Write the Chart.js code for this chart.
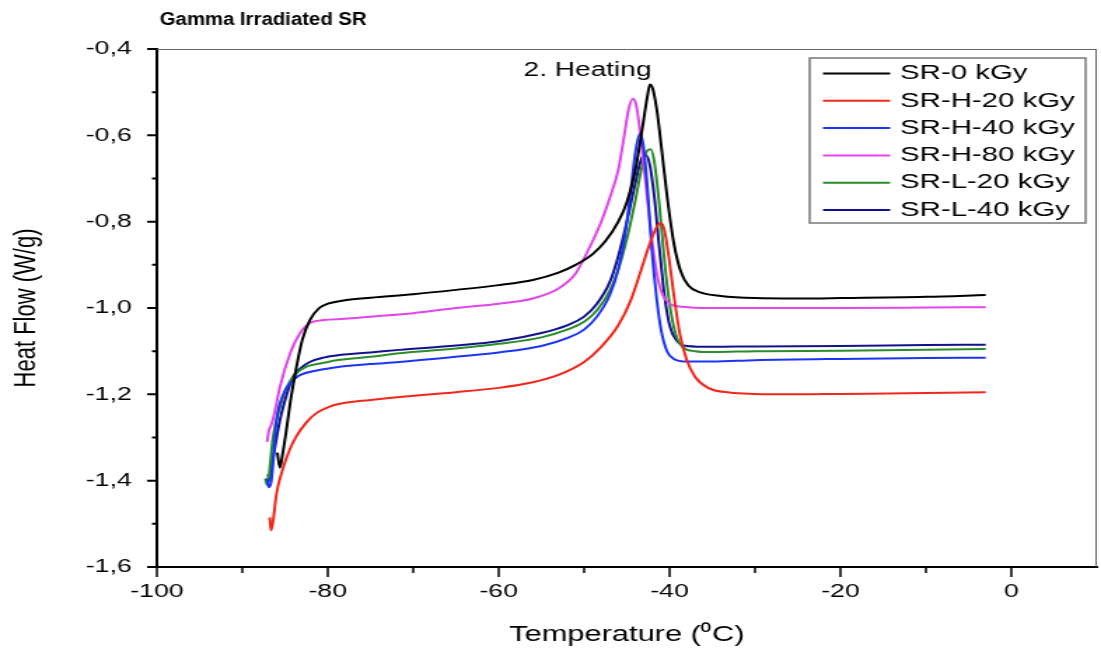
<!DOCTYPE html>
<html>
<head>
<meta charset="utf-8">
<script src="https://cdn.jsdelivr.net/npm/chart.js@4.4.0/dist/chart.umd.min.js"></script>
<style>
  html, body { margin: 0; padding: 0; background: #fff; overflow: hidden; }
</style>
</head>
<body>
<!-- the original figure is stretched sideways, so the canvas is drawn narrow and widened by css -->
<canvas id="chart" width="786" height="653" style="display:block;width:1101px;height:653px"></canvas>
<script>
const temperatureTicks = [-100, -80, -60, -40, -20, 0];
const heatFlowTicks = [-1.6, -1.4, -1.2, -1.0, -0.8, -0.6, -0.4];
const seriesNames = ['SR-0 kGy', 'SR-H-20 kGy', 'SR-H-40 kGy', 'SR-H-80 kGy', 'SR-L-20 kGy', 'SR-L-40 kGy'];

// SR-0 kGy
const tempSR0 = [-85.9, -85.6, -85.3, -84.9, -84.4, -83.7, -83.0, -82.1, -81.0, -80.0, -78.0, -75.0, -70.0, -65.0, -60.0, -56.0, -53.0, -51.0, -49.0, -47.5, -46.0, -45.0, -44.0, -43.2, -42.6, -42.3, -42.0, -41.5, -41.0, -40.3, -39.5, -38.7, -37.8, -36.5, -34.0, -30.0, -25.0, -20.0, -10.0, -3.0];
const flowSR0 = [-1.335, -1.37, -1.34, -1.29, -1.22, -1.14, -1.075, -1.028, -1.0, -0.99, -0.982, -0.976, -0.968, -0.958, -0.947, -0.935, -0.918, -0.9, -0.875, -0.845, -0.80, -0.755, -0.68, -0.585, -0.51, -0.482, -0.49, -0.54, -0.62, -0.74, -0.85, -0.915, -0.948, -0.963, -0.972, -0.977, -0.978, -0.977, -0.974, -0.97];

// SR-H-20 kGy
const tempH20 = [-86.8, -86.65, -86.45, -86.0, -85.3, -84.5, -83.7, -82.5, -81.3, -80.0, -78.6, -75.0, -71.6, -65.0, -60.0, -56.0, -53.0, -50.0, -48.0, -46.0, -44.5, -43.3, -42.3, -41.5, -41.0, -40.6, -40.1, -39.5, -38.8, -38.0, -37.0, -35.5, -33.0, -30.0, -25.0, -20.0, -10.0, -3.0];
const flowH20 = [-1.485, -1.515, -1.50, -1.43, -1.375, -1.33, -1.298, -1.265, -1.243, -1.23, -1.222, -1.213, -1.206, -1.195, -1.185, -1.172, -1.155, -1.125, -1.09, -1.04, -0.98, -0.91, -0.85, -0.812, -0.803, -0.82, -0.88, -0.97, -1.06, -1.12, -1.16, -1.185, -1.196, -1.199, -1.2, -1.199, -1.197, -1.195];

// SR-H-40 kGy
const tempH40 = [-87.1, -86.9, -86.6, -86.0, -85.2, -84.4, -83.5, -82.5, -80.5, -78.6, -75.0, -71.6, -65.0, -60.0, -55.0, -52.0, -50.0, -48.5, -47.0, -46.0, -45.2, -44.5, -44.0, -43.5, -43.1, -42.6, -42.1, -41.5, -41.0, -40.3, -39.5, -38.0, -35.0, -30.0, -20.0, -10.0, -3.0];
const flowH40 = [-1.395, -1.415, -1.40, -1.26, -1.2, -1.174, -1.158, -1.15, -1.142, -1.136, -1.13, -1.125, -1.113, -1.103, -1.088, -1.07, -1.05, -1.02, -0.97, -0.91, -0.83, -0.72, -0.64, -0.597, -0.62, -0.72, -0.86, -0.98, -1.05, -1.1, -1.118, -1.124, -1.124, -1.121, -1.118, -1.116, -1.115];

// SR-H-80 kGy
const tempH80 = [-87.1, -86.9, -86.6, -86.2, -85.6, -84.4, -83.3, -82.1, -80.5, -78.0, -75.0, -70.0, -65.0, -60.0, -56.0, -53.0, -51.0, -49.5, -48.0, -47.0, -46.0, -45.3, -44.8, -44.3, -43.9, -43.4, -42.8, -42.2, -41.5, -40.8, -40.0, -38.5, -35.0, -30.0, -20.0, -10.0, -3.0];
const flowH80 = [-1.31, -1.285, -1.27, -1.24, -1.183, -1.105, -1.06, -1.035, -1.028, -1.025, -1.02, -1.012, -1.0, -0.99, -0.978, -0.955, -0.92, -0.865, -0.8, -0.745, -0.68, -0.6, -0.54, -0.515, -0.53, -0.6, -0.71, -0.82, -0.92, -0.97, -0.99, -0.997, -1.0, -1.0, -1.0, -0.999, -0.998];

// SR-L-20 kGy
const tempL20 = [-87.3, -87.1, -86.9, -86.4, -85.6, -84.8, -83.7, -82.5, -80.5, -78.6, -75.0, -71.6, -65.0, -60.0, -55.0, -52.0, -50.0, -48.5, -47.0, -46.0, -45.0, -44.0, -43.2, -42.6, -42.2, -41.8, -41.2, -40.6, -40.0, -39.3, -38.5, -37.0, -35.0, -30.0, -20.0, -10.0, -3.0];
const flowL20 = [-1.395, -1.41, -1.39, -1.298, -1.23, -1.183, -1.152, -1.136, -1.127, -1.12, -1.113, -1.105, -1.094, -1.083, -1.068, -1.05, -1.032, -1.005, -0.96, -0.91, -0.84, -0.75, -0.67, -0.635, -0.632, -0.66, -0.76, -0.89, -0.99, -1.06, -1.09, -1.1, -1.102, -1.1, -1.099, -1.097, -1.095];

// SR-L-40 kGy
const tempL40 = [-87.0, -86.8, -86.5, -85.6, -84.8, -84.1, -83.1, -82.1, -80.5, -78.6, -75.0, -71.6, -65.0, -60.0, -55.0, -52.0, -50.0, -48.5, -47.0, -46.0, -45.0, -44.0, -43.3, -42.8, -42.3, -41.8, -41.2, -40.6, -40.0, -39.2, -38.0, -35.0, -30.0, -20.0, -10.0, -3.0];
const flowL40 = [-1.385, -1.40, -1.36, -1.26, -1.2, -1.16, -1.138, -1.125, -1.115, -1.109, -1.103, -1.097, -1.087, -1.077, -1.058, -1.04, -1.02, -0.99, -0.94, -0.88, -0.8, -0.71, -0.655, -0.645, -0.67, -0.74, -0.86, -0.97, -1.04, -1.075, -1.088, -1.09, -1.089, -1.088, -1.086, -1.085];

const seriesTemps = [tempSR0, tempH20, tempH40, tempH80, tempL20, tempL40];
const seriesFlows = [flowSR0, flowH20, flowH40, flowH80, flowL20, flowL40];
const lineColors = ['#000000', '#f0281c', '#1c34f4', '#e046e8', '#2a8c2a', '#12128c'];

const FONT = 'Arial, "Liberation Sans", sans-serif';
Chart.defaults.color = '#000';
Chart.defaults.font.family = FONT;

function toPoints(xs, ys) {
    return xs.map((x, i) => ({ x: x, y: ys[i] }));
}

const datasets = seriesNames.map((name, i) => ({
    label: name,
    data: toPoints(seriesTemps[i], seriesFlows[i]),
    borderColor: lineColors[i],
    backgroundColor: lineColors[i],
    borderWidth: 2,
    pointRadius: 0,
    cubicInterpolationMode: 'monotone',
    fill: false
}));

// frame, minor ticks, legend box, title and the "2. Heating" note
const decor = {
    id: 'decor',
    afterDraw(chart) {
        const { ctx, chartArea: a } = chart;
        const xs = chart.scales.x;
        const ys = chart.scales.y;
        ctx.save();

        // thin top and right frame
        ctx.strokeStyle = '#666';
        ctx.lineWidth = 1;
        ctx.beginPath();
        ctx.moveTo(a.left, a.top + 0.5);
        ctx.lineTo(a.right, a.top + 0.5);
        ctx.moveTo(a.right - 0.5, a.top);
        ctx.lineTo(a.right - 0.5, a.bottom);
        ctx.stroke();

        // ticks on the y axis
        ctx.strokeStyle = '#000';
        ctx.lineWidth = 2;
        ctx.beginPath();
        heatFlowTicks.forEach((v, i) => {
            const py = ys.getPixelForValue(v);
            ctx.moveTo(a.left - 7, py);
            ctx.lineTo(a.left, py);
            if (i < heatFlowTicks.length - 1) {
                const pm = ys.getPixelForValue((v + heatFlowTicks[i + 1]) / 2);
                ctx.moveTo(a.left - 3.5, pm);
                ctx.lineTo(a.left, pm);
            }
        });
        ctx.stroke();

        // ticks on the x axis
        ctx.lineWidth = 1.5;
        ctx.beginPath();
        temperatureTicks.forEach((v, i) => {
            const px = xs.getPixelForValue(v);
            ctx.moveTo(px, a.bottom);
            ctx.lineTo(px, a.bottom + 10);
            const next = i < temperatureTicks.length - 1 ? temperatureTicks[i + 1] : v + 20;
            const mid = (v + next) / 2;
            if (mid < xs.max) {
                const pm = xs.getPixelForValue(mid);
                ctx.moveTo(pm, a.bottom);
                ctx.lineTo(pm, a.bottom + 6);
            }
        });
        ctx.stroke();

        // legend
        const lx = 578, ly = 58, lw = 197, lh = 165;
        ctx.strokeStyle = '#777';
        ctx.lineWidth = 1.5;
        ctx.strokeRect(lx, ly, lw, lh);
        ctx.font = '21px ' + FONT;
        ctx.textAlign = 'left';
        ctx.textBaseline = 'middle';
        seriesNames.forEach((name, i) => {
            const ry = 73.5 + i * 27.3;
            ctx.strokeStyle = lineColors[i];
            ctx.lineWidth = 2;
            ctx.beginPath();
            ctx.moveTo(587.5, ry);
            ctx.lineTo(635.5, ry);
            ctx.stroke();
            ctx.fillStyle = '#000';
            ctx.fillText(name, 642.5, ry);
        });

        // note inside the plot
        ctx.font = '20px ' + FONT;
        ctx.textAlign = 'center';
        ctx.fillText('2. Heating', xs.getPixelForValue(-49.6), ys.getPixelForValue(-0.449));

        // figure title, taller than the stretch would give so squeeze it back a bit
        ctx.font = 'bold 17.5px ' + FONT;
        ctx.textAlign = 'left';
        ctx.textBaseline = 'alphabetic';
        ctx.translate(114, 25);
        ctx.scale(0.83, 1);
        ctx.fillText('Gamma Irradiated SR', 0, 0);

        ctx.restore();
    }
};

const ctx = document.getElementById('chart').getContext('2d');
new Chart(ctx, {
    type: 'line',
    data: { datasets: datasets },
    options: {
        responsive: false,
        devicePixelRatio: 1,
        animation: false,
        layout: { padding: { top: 49, right: 3, bottom: 0, left: 0 } },
        plugins: {
            legend: { display: false },
            tooltip: { enabled: false }
        },
        scales: {
            x: {
                type: 'linear',
                min: -100,
                max: 10,
                afterFit: (s) => { s.height = 86; },
                afterBuildTicks: (s) => { s.ticks = temperatureTicks.map(v => ({ value: v })); },
                grid: { display: true, drawOnChartArea: false, drawTicks: false },
                border: { display: true, color: '#000', width: 2 },
                ticks: {
                    font: { size: 19 },
                    color: '#000',
                    padding: 13,
                    maxRotation: 0,
                    autoSkip: false,
                    callback: (v) => String(v)
                },
                title: {
                    display: true,
                    text: 'Temperature (\u2070C)',
                    font: { size: 22 },
                    color: '#000',
                    padding: { top: 0, bottom: 5 }
                }
            },
            y: {
                type: 'linear',
                min: -1.6,
                max: -0.4,
                afterFit: (s) => { s.width = 112; },
                afterBuildTicks: (s) => { s.ticks = heatFlowTicks.map(v => ({ value: v })); },
                grid: { display: true, drawOnChartArea: false, drawTicks: false },
                border: { display: true, color: '#000', width: 2 },
                ticks: {
                    font: { size: 19 },
                    color: '#000',
                    padding: 18,
                    autoSkip: false,
                    callback: (v) => v.toFixed(1).replace('.', ',')
                },
                title: {
                    display: true,
                    text: 'Heat Flow (W/g)',
                    font: { size: 22 },
                    color: '#000',
                    padding: { top: 6, bottom: 0 }
                }
            }
        }
    },
    plugins: [decor]
});
</script>
</body>
</html>
